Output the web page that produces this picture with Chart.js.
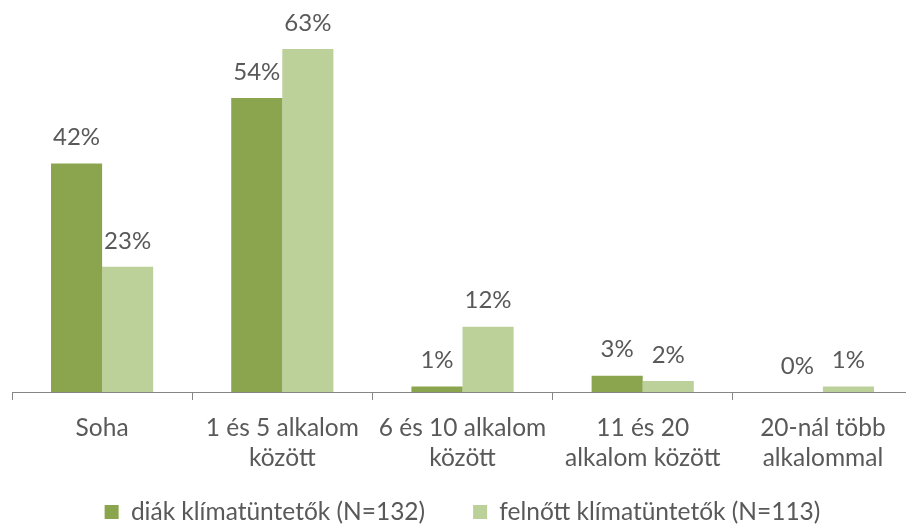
<!DOCTYPE html>
<html>
<head>
<meta charset="utf-8">
<script src="https://cdn.jsdelivr.net/npm/chart.js@4.4.1/dist/chart.umd.min.js"></script>
<style>
html,body{margin:0;padding:0;background:#fff;overflow:hidden;}
#wrap{width:930px;height:528px;}
</style>
</head>
<body>
<div id="wrap"><canvas id="c" width="930" height="528"></canvas></div>
<script>
const categories = [["Soha"], ["1 és 5 alkalom", "között"], ["6 és 10 alkalom", "között"], ["11 és 20", "alkalom között"], ["20-nál több", "alkalommal"]];
const seriesNames = ["diák klímatüntetők (N=132)", "felnőtt klímatüntetők (N=113)"];
const diakValues = [42, 54, 1, 3, 0];
const felnottValues = [23, 63, 12, 2, 1];

const FONT = "Lato, 'Open Sans', sans-serif";
const TEXT = "#595959";
const LEGEND_PAD = 48;
const LEGEND_FS = 24.5;

const labelPlugin = {
  id: 'valueLabels',
  afterDatasetsDraw(chart) {
    const ctx = chart.ctx;
    ctx.save();
    ctx.font = "24px " + FONT;
    ctx.fillStyle = TEXT;
    ctx.textAlign = 'center';
    ctx.textBaseline = 'middle';
    chart.data.datasets.forEach((ds, i) => {
      const meta = chart.getDatasetMeta(i);
      meta.data.forEach((bar, j) => {
        ctx.fillText(ds.data[j] + '%', bar.x, bar.y - 26);
      });
    });
    ctx.restore();
  }
};

// keep wide horizontal spacing between legend items while placing the legend low
const legendFit = {
  id: 'legendFit',
  beforeLayout(chart) {
    const lg = chart.legend;
    if (lg && !lg._fx) {
      const f = lg.fit;
      lg.fit = function () {
        f.call(this);
        this.height = 528 - (512 - LEGEND_PAD - LEGEND_FS / 2);
      };
      lg._fx = true;
    }
  },
  afterLayout(chart) {
    // let the two-line category labels extend below the shortened axis box
    chart.scales.x.bottom = chart.height;
  }
};

new Chart(document.getElementById('c'), {
  type: 'bar',
  data: {
    labels: categories,
    datasets: [
      { label: seriesNames[0], data: diakValues, backgroundColor: '#8aa54e', borderWidth: 0 },
      { label: seriesNames[1], data: felnottValues, backgroundColor: '#bcd09a', borderWidth: 0 }
    ]
  },
  options: {
    responsive: false,
    animation: false,
    devicePixelRatio: 1,
    categoryPercentage: 0.567,
    barPercentage: 1.0,
    layout: { padding: { left: 12, right: 17, top: 11, bottom: 0 } },
    plugins: {
      legend: {
        position: 'bottom',
        labels: {
          font: { family: FONT, size: LEGEND_FS },
          color: TEXT,
          boxWidth: 14,
          boxHeight: 14,
          padding: LEGEND_PAD
        }
      },
      tooltip: { enabled: false }
    },
    scales: {
      x: {
        afterFit(scale) {
          const legendTop = 512 - LEGEND_PAD - LEGEND_FS / 2;
          scale.height = legendTop - 392;
        },
        grid: { display: true, drawOnChartArea: false, offset: true, tickLength: 8, color: '#868686', lineWidth: 1 },
        border: { display: true, color: '#868686', width: 1 },
        ticks: { font: { family: FONT, size: 24.5, lineHeight: 1.22 }, color: TEXT, padding: 13, maxRotation: 0 }
      },
      y: {
        display: false,
        min: 0,
        max: 70
      }
    }
  },
  plugins: [labelPlugin, legendFit]
});
</script>
</body>
</html>
